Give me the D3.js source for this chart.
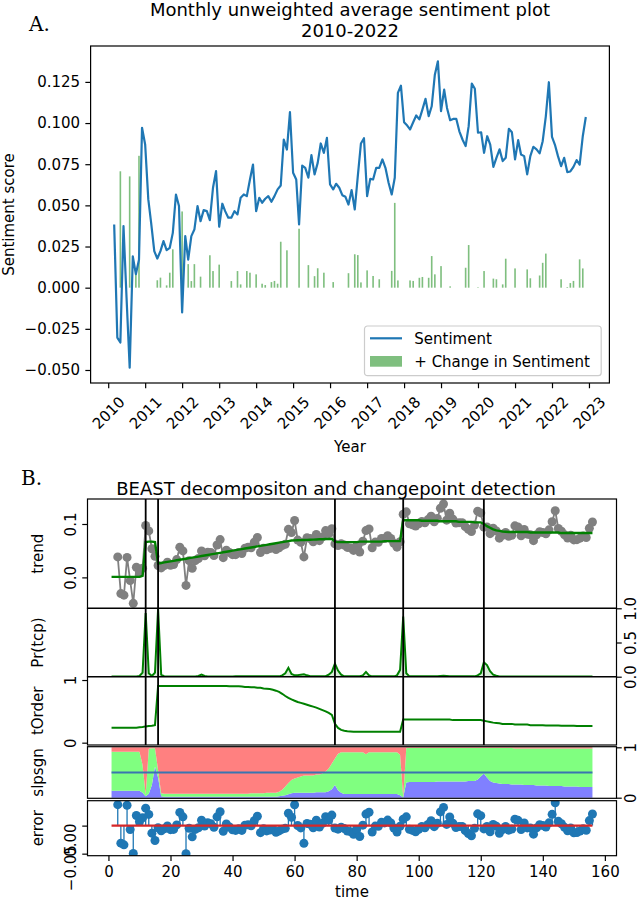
<!DOCTYPE html>
<meta charset="utf-8">
<script src="https://d3js.org/d3.v7.min.js"></script>
<style>
  body { margin: 0; background: #fff; }
</style>
<body>
<script>
// ---- Panel A data: monthly unweighted average sentiment, Mar 2010 .. Dec 2022
const firstMonth = new Date(2010, 2, 1);
const sentiment = [
  0.0384, -0.0303, -0.0333, 0.0374, -0.006, -0.0486, 0.019, 0.0082, 0.017, 0.0971,
  0.087, 0.0536, 0.0394, 0.0222, 0.0177, 0.0222, 0.0283, 0.0228, 0.0242, 0.0333,
  0.0566, 0.0496, -0.015, 0.0313, 0.017, 0.0313, 0.0353, 0.0496, 0.0404, 0.0471,
  0.0465, 0.041, 0.0607, 0.0708, 0.037, 0.051, 0.0465, 0.0425, 0.0425, 0.0465,
  0.0445, 0.0546, 0.0566, 0.0556, 0.0657, 0.0748, 0.0465, 0.0546, 0.0516, 0.054,
  0.0556, 0.0522, 0.0556, 0.0597, 0.0621, 0.09, 0.0839, 0.1066, 0.0698, 0.0657,
  0.0384, 0.0742, 0.0728, 0.0668, 0.0805, 0.0688, 0.0758, 0.0876, 0.0819, 0.091,
  0.0627, 0.0597, 0.0631, 0.0607, 0.0562, 0.0552, 0.0505, 0.0593, 0.0475, 0.0678,
  0.0876, 0.0908, 0.0556, 0.0661, 0.0657, 0.0728, 0.0728, 0.0779, 0.0728, 0.0637,
  0.0566, 0.0668, 0.1183, 0.1227, 0.1005, 0.0985, 0.0961, 0.1005, 0.1046, 0.1022,
  0.1082, 0.1147, 0.1042, 0.1102, 0.1294, 0.1375, 0.1072, 0.1203, 0.1092, 0.1017,
  0.1025, 0.1025, 0.095, 0.09, 0.086, 0.0981, 0.124, 0.1208, 0.0941, 0.0944,
  0.0819, 0.092, 0.0869, 0.0734, 0.0789, 0.084, 0.0769, 0.0789, 0.0965, 0.0944,
  0.0779, 0.0896, 0.0809, 0.0799, 0.0688, 0.0799, 0.0856, 0.084, 0.0816, 0.089,
  0.1041, 0.1248, 0.0916, 0.0864, 0.0799, 0.0738, 0.0789, 0.0702, 0.0706, 0.0734,
  0.0775, 0.0748, 0.092, 0.1037
];
const yearTicks = [2010, 2011, 2012, 2013, 2014, 2015, 2016, 2017, 2018, 2019, 2020, 2021, 2022, 2023];
const sentTicks = [-0.05, -0.025, 0, 0.025, 0.05, 0.075, 0.1, 0.125];

// ---- Panel B data: BEAST output, t = 1..156 (observations start at t = 3)
const dataStart = 3;
const changepoints = [12, 16, 73, 95, 121];
const trend = [
  0.001, 0.001, 0.001, 0.001, 0.001, 0.001, 0.001, 0.001, 0.001, 0.001,
  0.003, 0.066, 0.067, 0.067, 0.066, 0.026, 0.027, 0.028, 0.029, 0.030,
  0.031, 0.032, 0.033, 0.034, 0.035, 0.036, 0.037, 0.038, 0.039, 0.040,
  0.041, 0.042, 0.043, 0.044, 0.045, 0.046, 0.047, 0.048, 0.049, 0.050,
  0.051, 0.052, 0.053, 0.054, 0.055, 0.056, 0.057, 0.058, 0.059, 0.060,
  0.061, 0.062, 0.063, 0.064, 0.065, 0.066, 0.067, 0.068, 0.069, 0.0693,
  0.0695, 0.0698, 0.0700, 0.0703, 0.0705, 0.0708, 0.0710, 0.0713, 0.0715, 0.0718,
  0.0720, 0.0722, 0.067, 0.066, 0.066, 0.066, 0.066, 0.066, 0.066, 0.066,
  0.067, 0.067, 0.067, 0.067, 0.067, 0.067, 0.067, 0.067, 0.068, 0.068,
  0.068, 0.068, 0.068, 0.068, 0.107, 0.107, 0.107, 0.107, 0.107, 0.107,
  0.106, 0.106, 0.106, 0.106, 0.106, 0.106, 0.105, 0.105, 0.105, 0.105,
  0.105, 0.105, 0.104, 0.104, 0.104, 0.104, 0.104, 0.103, 0.103, 0.103,
  0.100, 0.096, 0.093, 0.090, 0.088, 0.087, 0.086, 0.0855, 0.085, 0.085,
  0.085, 0.085, 0.085, 0.085, 0.085, 0.084, 0.084, 0.084, 0.084, 0.084,
  0.084, 0.084, 0.084, 0.084, 0.084, 0.083, 0.083, 0.083, 0.083, 0.083,
  0.083, 0.083, 0.083, 0.083, 0.083, 0.083
];
const prTcp = [
  0.004, 0.004, 0.004, 0.004, 0.004, 0.004, 0.004, 0.004, 0.004, 0.01,
  0.06, 0.93, 0.05, 0.01, 0.06, 0.99, 0.03, 0.004, 0.004, 0.004,
  0.004, 0.004, 0.004, 0.004, 0.004, 0.004, 0.004, 0.004, 0.01, 0.03,
  0.01, 0.004, 0.004, 0.004, 0.004, 0.004, 0.004, 0.004, 0.004, 0.004,
  0.005, 0.005, 0.005, 0.005, 0.005, 0.005, 0.005, 0.005, 0.005, 0.005,
  0.005, 0.005, 0.005, 0.005, 0.005, 0.02, 0.05, 0.13, 0.04, 0.02,
  0.02, 0.03, 0.035, 0.02, 0.008, 0.008, 0.008, 0.008, 0.008, 0.008,
  0.03, 0.07, 0.19, 0.09, 0.03, 0.006, 0.006, 0.006, 0.006, 0.006,
  0.006, 0.02, 0.07, 0.02, 0.005, 0.005, 0.005, 0.005, 0.005, 0.005,
  0.005, 0.005, 0.02, 0.10, 0.88, 0.05, 0.005, 0.005, 0.005, 0.005,
  0.005, 0.005, 0.005, 0.005, 0.005, 0.005, 0.01, 0.015, 0.01, 0.005,
  0.005, 0.005, 0.005, 0.005, 0.005, 0.005, 0.005, 0.005, 0.02, 0.05,
  0.21, 0.17, 0.08, 0.03, 0.015, 0.004, 0.004, 0.004, 0.004, 0.004,
  0.004, 0.004, 0.004, 0.004, 0.004, 0.004, 0.004, 0.004, 0.004, 0.004,
  0.004, 0.004, 0.004, 0.004, 0.004, 0.004, 0.004, 0.004, 0.004, 0.004,
  0.004, 0.004, 0.004, 0.004, 0.004, 0.004
];
const tOrder = [
  0.24, 0.24, 0.24, 0.24, 0.24, 0.24, 0.24, 0.24, 0.24, 0.245,
  0.25, 0.26, 0.265, 0.27, 0.28, 0.905, 0.905, 0.905, 0.905, 0.905,
  0.905, 0.905, 0.905, 0.905, 0.905, 0.905, 0.905, 0.905, 0.905, 0.905,
  0.905, 0.905, 0.905, 0.905, 0.905, 0.905, 0.905, 0.905, 0.90, 0.90,
  0.90, 0.90, 0.895, 0.89, 0.89, 0.885, 0.885, 0.875, 0.875, 0.865,
  0.86, 0.855, 0.845, 0.83, 0.81, 0.78, 0.745, 0.715, 0.69, 0.67,
  0.65, 0.635, 0.62, 0.605, 0.59, 0.575, 0.56, 0.54, 0.52, 0.50,
  0.475, 0.445, 0.30, 0.235, 0.205, 0.19, 0.182, 0.178, 0.175, 0.175,
  0.175, 0.175, 0.175, 0.175, 0.175, 0.175, 0.175, 0.175, 0.175, 0.175,
  0.175, 0.175, 0.175, 0.175, 0.37, 0.368, 0.368, 0.368, 0.368, 0.368,
  0.368, 0.368, 0.368, 0.368, 0.368, 0.368, 0.368, 0.368, 0.368, 0.368,
  0.36, 0.36, 0.36, 0.36, 0.36, 0.36, 0.36, 0.36, 0.36, 0.36,
  0.35, 0.34, 0.33, 0.32, 0.315, 0.31, 0.30, 0.30, 0.30, 0.30,
  0.29, 0.29, 0.29, 0.29, 0.29, 0.28, 0.28, 0.28, 0.28, 0.28,
  0.275, 0.275, 0.275, 0.275, 0.275, 0.27, 0.27, 0.27, 0.27, 0.27,
  0.265, 0.265, 0.265, 0.265, 0.265, 0.265
];
// probability of negative / zero / positive slope
const slpNeg = [
  0.14, 0.14, 0.14, 0.14, 0.14, 0.14, 0.14, 0.14, 0.14, 0.14,
  0.10, 0.03, 0.08, 0.25, 0.62, 0.40, 0.03, 0.02, 0.02, 0.02,
  0.02, 0.02, 0.02, 0.02, 0.02, 0.02, 0.02, 0.02, 0.02, 0.02,
  0.02, 0.02, 0.02, 0.02, 0.02, 0.02, 0.02, 0.02, 0.02, 0.02,
  0.02, 0.02, 0.02, 0.02, 0.02, 0.02, 0.02, 0.02, 0.02, 0.02,
  0.02, 0.02, 0.02, 0.02, 0.03, 0.04, 0.05, 0.07, 0.09, 0.10,
  0.10, 0.10, 0.10, 0.10, 0.10, 0.10, 0.11, 0.11, 0.11, 0.11,
  0.13, 0.17, 0.25, 0.15, 0.10, 0.075, 0.075, 0.075, 0.075, 0.075,
  0.075, 0.075, 0.075, 0.075, 0.075, 0.075, 0.075, 0.075, 0.075, 0.075,
  0.075, 0.075, 0.075, 0.05, 0.005, 0.30, 0.31, 0.31, 0.31, 0.31,
  0.31, 0.31, 0.31, 0.31, 0.31, 0.32, 0.32, 0.32, 0.32, 0.32,
  0.32, 0.32, 0.32, 0.32, 0.32, 0.33, 0.33, 0.33, 0.36, 0.42,
  0.48, 0.40, 0.33, 0.30, 0.29, 0.28, 0.27, 0.27, 0.27, 0.26,
  0.26, 0.26, 0.26, 0.25, 0.25, 0.25, 0.25, 0.24, 0.24, 0.24,
  0.24, 0.23, 0.23, 0.23, 0.23, 0.23, 0.22, 0.22, 0.22, 0.22,
  0.22, 0.21, 0.21, 0.21, 0.21, 0.21
];
const slpZero = [
  0.77, 0.77, 0.77, 0.77, 0.77, 0.77, 0.77, 0.77, 0.77, 0.77,
  0.55, 0.03, 0.89, 0.73, 0.36, 0.15, 0.06, 0.06, 0.06, 0.06,
  0.06, 0.06, 0.06, 0.06, 0.06, 0.06, 0.06, 0.06, 0.06, 0.06,
  0.06, 0.06, 0.06, 0.06, 0.06, 0.06, 0.06, 0.06, 0.06, 0.06,
  0.06, 0.06, 0.06, 0.06, 0.06, 0.07, 0.07, 0.07, 0.07, 0.07,
  0.08, 0.08, 0.08, 0.08, 0.09, 0.12, 0.17, 0.22, 0.26, 0.28,
  0.30, 0.32, 0.34, 0.34, 0.34, 0.34, 0.35, 0.35, 0.37, 0.41,
  0.45, 0.51, 0.53, 0.72, 0.80, 0.825, 0.825, 0.825, 0.825, 0.825,
  0.825, 0.825, 0.785, 0.825, 0.825, 0.825, 0.825, 0.825, 0.825, 0.825,
  0.825, 0.825, 0.825, 0.80, 0.015, 0.685, 0.675, 0.675, 0.675, 0.675,
  0.675, 0.675, 0.675, 0.675, 0.675, 0.665, 0.665, 0.665, 0.665, 0.665,
  0.665, 0.665, 0.665, 0.665, 0.665, 0.655, 0.655, 0.655, 0.625, 0.565,
  0.505, 0.585, 0.655, 0.685, 0.695, 0.705, 0.715, 0.715, 0.715, 0.725,
  0.715, 0.715, 0.715, 0.725, 0.725, 0.725, 0.725, 0.735, 0.735, 0.735,
  0.735, 0.745, 0.745, 0.745, 0.745, 0.745, 0.755, 0.755, 0.755, 0.755,
  0.755, 0.765, 0.765, 0.765, 0.765, 0.765
];
const slpPos = [
  0.09, 0.09, 0.09, 0.09, 0.09, 0.09, 0.09, 0.09, 0.09, 0.09,
  0.35, 0.94, 0.03, 0.02, 0.02, 0.45, 0.91, 0.92, 0.92, 0.92,
  0.92, 0.92, 0.92, 0.92, 0.92, 0.92, 0.92, 0.92, 0.92, 0.92,
  0.92, 0.92, 0.92, 0.92, 0.92, 0.92, 0.92, 0.92, 0.92, 0.92,
  0.92, 0.92, 0.92, 0.92, 0.92, 0.91, 0.91, 0.91, 0.91, 0.91,
  0.90, 0.90, 0.90, 0.90, 0.88, 0.84, 0.78, 0.71, 0.65, 0.62,
  0.60, 0.58, 0.56, 0.56, 0.56, 0.56, 0.54, 0.54, 0.52, 0.48,
  0.42, 0.32, 0.22, 0.13, 0.10, 0.10, 0.10, 0.10, 0.10, 0.10,
  0.10, 0.10, 0.14, 0.10, 0.10, 0.10, 0.10, 0.10, 0.10, 0.10,
  0.10, 0.10, 0.10, 0.15, 0.98, 0.015, 0.015, 0.015, 0.015, 0.015,
  0.015, 0.015, 0.015, 0.015, 0.015, 0.015, 0.015, 0.015, 0.015, 0.015,
  0.015, 0.015, 0.015, 0.015, 0.015, 0.015, 0.015, 0.015, 0.015, 0.015,
  0.015, 0.015, 0.015, 0.015, 0.015, 0.015, 0.015, 0.015, 0.015, 0.015,
  0.025, 0.025, 0.025, 0.025, 0.025, 0.025, 0.025, 0.025, 0.025, 0.025,
  0.025, 0.025, 0.025, 0.025, 0.025, 0.025, 0.025, 0.025, 0.025, 0.025,
  0.025, 0.025, 0.025, 0.025, 0.025, 0.025
];
const timeTicks = [0, 20, 40, 60, 80, 100, 120, 140, 160];

// ---------------------------------------------------------------
const font = "'DejaVu Sans', sans-serif";
const fs = 15;            // tick / label size
const tickLen = 5.25;
const minus = s => s.replace("-", "\u2212");

const svg = d3.select("body").append("svg")
  .attr("width", 640).attr("height", 899)
  .attr("font-family", font);
const defs = svg.append("defs");

function styleAxis(g) {
  g.attr("font-size", fs).attr("font-family", font);
  g.select(".domain").remove();
  g.selectAll(".tick line").attr("stroke-width", 1.2);
  g.selectAll(".tick text").attr("fill", "#000");
}

// ===================== Panel A =====================
const A = {left: 90.6, right: 609.4, top: 46, bottom: 383};
const months = sentiment.map((d, i) => d3.timeMonth.offset(firstMonth, i));
const mPad = (months[months.length - 1] - months[0]) * 0.05;
const xA = d3.scaleTime()
  .domain([new Date(+months[0] - mPad), new Date(+months[months.length - 1] + mPad)])
  .range([A.left, A.right]);
const [sLo, sHi] = d3.extent(sentiment.concat([0]));
const sPad = (sHi - sLo) * 0.05;
const yA = d3.scaleLinear().domain([sLo - sPad, sHi + sPad]).range([A.bottom, A.top]);

// positive month-to-month change of the sentiment line
const gains = sentiment.slice(0, -1).map((d, i) => Math.max(0, sentiment[i + 1] - d));
const barW = xA(d3.timeDay.offset(months[0], 16)) - xA(months[0]);

svg.append("g").selectAll("rect")
  .data(gains)
  .join("rect")
  .attr("x", (d, i) => xA(months[i]) - barW / 2)
  .attr("y", d => yA(d))
  .attr("width", barW)
  .attr("height", d => yA(0) - yA(d))
  .attr("fill", "green")
  .attr("fill-opacity", 0.5);

svg.append("path")
  .datum(sentiment)
  .attr("fill", "none")
  .attr("stroke", "#1f77b4")
  .attr("stroke-width", 2.2)
  .attr("stroke-linejoin", "round")
  .attr("d", d3.line().x((d, i) => xA(months[i])).y(d => yA(d)));

svg.append("rect")
  .attr("x", A.left).attr("y", A.top)
  .attr("width", A.right - A.left).attr("height", A.bottom - A.top)
  .attr("fill", "none").attr("stroke", "#000").attr("stroke-width", 1.2);

svg.append("g")
  .attr("transform", `translate(${A.left},0)`)
  .call(d3.axisLeft(yA).tickValues(sentTicks)
    .tickFormat(d => minus(d3.format(".3f")(d)))
    .tickSize(tickLen).tickPadding(5.25).tickSizeOuter(0))
  .call(styleAxis);

svg.append("g")
  .attr("transform", `translate(0,${A.bottom})`)
  .call(d3.axisBottom(xA).tickValues(yearTicks.map(y => new Date(y, 0, 1)))
    .tickFormat(d3.timeFormat("%Y")).tickSize(tickLen).tickSizeOuter(0))
  .call(styleAxis)
  .call(g => g.selectAll(".tick text")
    .attr("y", null).attr("dy", null)
    .attr("text-anchor", "middle")
    .attr("dominant-baseline", "central")
    .attr("transform", "translate(0,30) rotate(-45)"));

svg.append("text")
  .attr("x", (A.left + A.right) / 2).attr("y", 452)
  .attr("text-anchor", "middle").attr("font-size", fs)
  .text("Year");

svg.append("text")
  .attr("transform", `translate(14.3,${(A.top + A.bottom) / 2}) rotate(-90)`)
  .attr("text-anchor", "middle").attr("font-size", fs)
  .text("Sentiment score");

svg.append("text")
  .attr("x", (A.left + A.right) / 2).attr("y", 15.5)
  .attr("text-anchor", "middle").attr("font-size", 18)
  .text("Monthly unweighted average sentiment plot");
svg.append("text")
  .attr("x", (A.left + A.right) / 2).attr("y", 36.5)
  .attr("text-anchor", "middle").attr("font-size", 18)
  .text("2010-2022");

svg.append("text")
  .attr("x", 29).attr("y", 31)
  .attr("font-family", "'DejaVu Serif', serif").attr("font-size", 20)
  .text("A.");

// legend
const leg = svg.append("g").attr("transform", "translate(364.5,326)");
leg.append("rect")
  .attr("width", 236.7).attr("height", 49.7).attr("rx", 3)
  .attr("fill", "#fff").attr("fill-opacity", 0.8)
  .attr("stroke", "#cccccc").attr("stroke-width", 1.2);
leg.append("line")
  .attr("x1", 5.5).attr("x2", 37.5).attr("y1", 12.3).attr("y2", 12.3)
  .attr("stroke", "#1f77b4").attr("stroke-width", 2.2);
leg.append("text").attr("x", 49.8).attr("y", 17.8).attr("font-size", fs).text("Sentiment");
leg.append("rect")
  .attr("x", 5.5).attr("y", 30).attr("width", 32).attr("height", 10.7)
  .attr("fill", "green").attr("fill-opacity", 0.5);
leg.append("text").attr("x", 49.8).attr("y", 41).attr("font-size", fs).text("+ Change in Sentiment");

// ===================== Panel B =====================
const B = {left: 87.5, right: 616.5};
const rows = {
  trend: [499, 608.3],
  pr: [608.3, 676.7],
  order: [676.7, 745],
  slp: [746.7, 798.3],
  err: [800.7, 855.7]
};
const tAll = trend.map((d, i) => i + 1);
const tPadB = (tAll[tAll.length - 1] - tAll[0]) * 0.05;
const xB = d3.scaleLinear()
  .domain([tAll[0] - tPadB, tAll[tAll.length - 1] + tPadB])
  .range([B.left, B.right]);

function panel(key) {
  const [y0, y1] = rows[key];
  defs.append("clipPath").attr("id", "clip-" + key)
    .append("rect").attr("x", B.left).attr("y", y0)
    .attr("width", B.right - B.left).attr("height", y1 - y0);
  return svg.append("g").attr("clip-path", `url(#clip-${key})`);
}
function frame(key) {
  const [y0, y1] = rows[key];
  svg.append("rect")
    .attr("x", B.left).attr("y", y0)
    .attr("width", B.right - B.left).attr("height", y1 - y0)
    .attr("fill", "none").attr("stroke", "#000").attr("stroke-width", 1.2);
}
function leftTicks(y, vals, fmt, shift) {
  svg.append("g").attr("transform", `translate(${B.left},0)`)
    .call(d3.axisLeft(y).tickValues(vals).tickFormat(fmt).tickSize(tickLen).tickSizeOuter(0))
    .call(styleAxis)
    .call(g => g.selectAll(".tick text")
      .attr("x", null).attr("dy", null)
      .attr("text-anchor", "middle")
      .attr("transform", `translate(-12,${shift || 0}) rotate(-90)`));
}
function rightTicks(y, vals, fmt) {
  svg.append("g").attr("transform", `translate(${B.right},0)`)
    .call(d3.axisRight(y).tickValues(vals).tickFormat(fmt).tickSize(tickLen).tickSizeOuter(0))
    .call(styleAxis)
    .call(g => g.selectAll(".tick text")
      .attr("x", null).attr("dy", null)
      .attr("text-anchor", "middle")
      .attr("transform", "translate(19.6,0) rotate(-90)"));
}
function rowLabel(key, txt) {
  const [y0, y1] = rows[key];
  svg.append("text")
    .attr("transform", `translate(43,${(y0 + y1) / 2}) rotate(-90)`)
    .attr("text-anchor", "middle").attr("font-size", fs)
    .text(txt);
}
const yOf = (key, domain) => d3.scaleLinear().domain(domain).range([rows[key][1], rows[key][0]]);

// --- trend
const obs = sentiment.map((v, j) => ({t: j + dataStart, v}));
const [tLo, tHi] = d3.extent(sentiment.concat(trend));
const tp = (tHi - tLo) * 0.05;
const yT = yOf("trend", [tLo - tp, tHi + tp]);
const gT = panel("trend");
gT.append("path").datum(obs)
  .attr("fill", "none").attr("stroke", "#808080").attr("stroke-width", 1.8)
  .attr("d", d3.line().x(d => xB(d.t)).y(d => yT(d.v)));
gT.selectAll("circle").data(obs).join("circle")
  .attr("cx", d => xB(d.t)).attr("cy", d => yT(d.v)).attr("r", 4.5)
  .attr("fill", "#808080");
gT.append("path").datum(trend)
  .attr("fill", "none").attr("stroke", "#008000").attr("stroke-width", 2.4)
  .attr("d", d3.line().x((d, i) => xB(tAll[i])).y(d => yT(d)));
frame("trend");
leftTicks(yT, [0, 0.1], d3.format(".1f"));
rowLabel("trend", "trend");

// --- Pr(tcp)
const yP = yOf("pr", [0, 1]);
const gP = panel("pr");
gP.append("path").datum(prTcp)
  .attr("fill", "#008000").attr("fill-opacity", 0.15)
  .attr("d", d3.area().x((d, i) => xB(tAll[i])).y0(yP(0)).y1(d => yP(d)));
gP.append("path").datum(prTcp)
  .attr("fill", "none").attr("stroke", "#008000").attr("stroke-width", 2)
  .attr("d", d3.line().x((d, i) => xB(tAll[i])).y(d => yP(d)));
frame("pr");
rightTicks(yP, [0, 0.5, 1], d3.format(".1f"));
rowLabel("pr", "Pr(tcp)");

// --- tOrder
const yO = yOf("order", [-0.037, 1.053]);
const gO = panel("order");
gO.append("path").datum(tOrder)
  .attr("fill", "none").attr("stroke", "#008000").attr("stroke-width", 2)
  .attr("d", d3.line().x((d, i) => xB(tAll[i])).y(d => yO(d)));
frame("order");
leftTicks(yO, [0, 1], d3.format("d"));
rowLabel("order", "tOrder");

// --- slope sign
const yS = yOf("slp", [-0.012, 1.012]);
const gS = panel("slp");
const slpRows = tAll.map((t, i) => ({t, neg: slpNeg[i], zero: slpZero[i], pos: slpPos[i]}));
const stack = d3.stack().keys(["neg", "zero", "pos"])(slpRows);
const slpColor = {neg: "#8080ff", zero: "#80ff80", pos: "#ff8080"};
gS.selectAll("path.layer").data(stack).join("path")
  .attr("class", "layer")
  .attr("fill", d => slpColor[d.key])
  .attr("d", d3.area().x(d => xB(d.data.t)).y0(d => yS(d[0])).y1(d => yS(d[1])));
gS.append("line")
  .attr("x1", xB(tAll[0])).attr("x2", xB(tAll[tAll.length - 1]))
  .attr("y1", yS(0.5)).attr("y2", yS(0.5))
  .attr("stroke", "#3a75b0").attr("stroke-width", 2.2);
frame("slp");
rightTicks(yS, [0, 1], d3.format("d"));
rowLabel("slp", "slpsgn");

// --- error (observation minus trend)
const resid = obs.map(d => ({t: d.t, v: d.v - trend[d.t - 1]}));
const [eLo, eHi] = d3.extent(resid, d => d.v);
const ep = (eHi - eLo) * 0.04;
const yE = yOf("err", [eLo - ep, eHi + ep]);
const gE = panel("err");
gE.selectAll("line.stem").data(resid).join("line")
  .attr("class", "stem")
  .attr("x1", d => xB(d.t)).attr("x2", d => xB(d.t))
  .attr("y1", yE(0)).attr("y2", d => yE(d.v))
  .attr("stroke", "#1f77b4").attr("stroke-width", 1.3);
gE.selectAll("circle").data(resid).join("circle")
  .attr("cx", d => xB(d.t)).attr("cy", d => yE(d.v)).attr("r", 4.5)
  .attr("fill", "#1f77b4");
gE.append("line")
  .attr("x1", xB(tAll[0])).attr("x2", xB(tAll[tAll.length - 1]))
  .attr("y1", yE(0)).attr("y2", yE(0))
  .attr("stroke", "#d62728").attr("stroke-width", 2.2);
frame("err");
leftTicks(yE, [-0.05, 0], d => minus(d3.format(".2f")(d)), 14);
rowLabel("err", "error");

// changepoint markers across the upper three panels
svg.append("g").selectAll("line").data(changepoints).join("line")
  .attr("x1", d => xB(d)).attr("x2", d => xB(d))
  .attr("y1", rows.trend[0]).attr("y2", rows.order[1])
  .attr("stroke", "#000").attr("stroke-width", 1.8);

// bottom time axis
svg.append("g")
  .attr("transform", `translate(0,${rows.err[1]})`)
  .call(d3.axisBottom(xB).tickValues(timeTicks).tickSize(tickLen).tickPadding(5.25).tickSizeOuter(0))
  .call(styleAxis);
svg.append("text")
  .attr("x", (B.left + B.right) / 2).attr("y", 896.5)
  .attr("text-anchor", "middle").attr("font-size", fs)
  .text("time");

svg.append("text")
  .attr("x", 336).attr("y", 495)
  .attr("text-anchor", "middle").attr("font-size", 18)
  .text("BEAST decompositon and changepoint detection");
svg.append("text")
  .attr("x", 21).attr("y", 485)
  .attr("font-family", "'DejaVu Serif', serif").attr("font-size", 20)
  .text("B.");
</script>
</body>
</html>
